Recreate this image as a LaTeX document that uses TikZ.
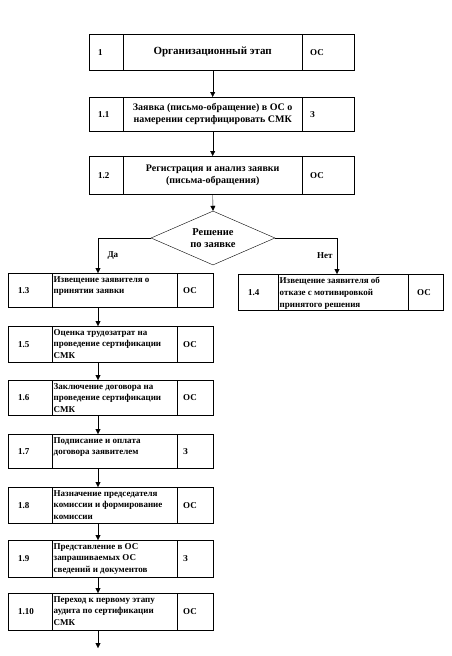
\documentclass[tikz,border=0pt]{standalone}
\usepackage{fontspec}
\setmainfont{Liberation Serif}
\usetikzlibrary{shapes.geometric,arrows.meta}

\tikzset{
  cell/.style={draw, thin, anchor=north west, inner ysep=0pt, font=\bfseries\fontsize{9}{11.7}\selectfont},
  numT/.style={cell, align=left, inner xsep=9pt, text width=16pt},
  midT/.style={cell, align=center, inner xsep=0pt, minimum width=179pt, font=\bfseries\fontsize{10}{12}\selectfont},
  codeT/.style={cell, align=left, inner xsep=8pt, text width=36pt},
  numL/.style={cell, align=left, inner xsep=10pt, text width=24pt},
  midL/.style={cell, inner xsep=0pt, minimum width=125pt},
  codeL/.style={cell, align=left, inner xsep=6pt, text width=24pt},
  numR/.style={cell, align=left, inner xsep=10pt, text width=20pt},
  midR/.style={cell, inner xsep=0pt, minimum width=130pt},
  codeR/.style={cell, align=left, inner xsep=9pt, text width=17pt},
  txt/.style={anchor=north west, align=left, inner xsep=1.5pt, inner ysep=3pt, font=\bfseries\fontsize{9}{11.7}\selectfont},
  arr/.style={thin, -{Triangle[length=5pt,width=5pt]}}
}

\begin{document}
\begin{tikzpicture}[x=1pt, y=-1pt]
    \useasboundingbox (0,0) rectangle (452,656);

    % 1 Организационный этап
    \node[numT, minimum height=36pt] (n1) at (89,34) {1};
    \node[midT, minimum height=36pt, font=\bfseries\fontsize{11}{13}\selectfont] (t1) at (123,34) {Организационный этап};
    \node[codeT, minimum height=36pt] (c1) at (302,34) {ОС};

    % 1.1 Заявка
    \node[numT, minimum height=34pt] (n11) at (89,97) {1.1};
    \node[midT, minimum height=34pt] (t11) at (123,97) {Заявка (письмо-обращение) в ОС о\\намерении сертифицировать СМК};
    \node[codeT, minimum height=34pt] (c11) at (302,97) {З};

    % 1.2 Регистрация
    \node[numT, minimum height=38pt] (n12) at (89,156) {1.2};
    \node[midT, minimum height=38pt] (t12) at (123,156) {Регистрация и анализ заявки\\(письма-обращения)};
    \node[codeT, minimum height=38pt] (c12) at (302,156) {ОС};

    % Решение по заявке
    \node[draw, thin, diamond, aspect=2.3, minimum width=124pt, minimum height=54pt, inner sep=0pt,
          align=center, font=\bfseries\fontsize{10.5}{12}\selectfont] (d) at (213,238) {Решение\\по заявке};

    % Ветка "Нет"
    \node[numR, minimum height=36pt] (n14) at (238,274) {1.4};
    \node[midR, minimum height=36pt] (t14) at (278,274) {};
    \node[codeR, minimum height=36pt] (c14) at (408,274) {ОС};
    \node[txt] (x14) at (t14.north west) {Извещение заявителя об\\отказе с мотивировкой\\принятого решения};

    % Ветка "Да"
    \node[numL, minimum height=34pt] (n13) at (8,273) {1.3};
    \node[midL, minimum height=34pt] (t13) at (52,273) {};
    \node[codeL, minimum height=34pt] (c13) at (177,273) {ОС};
    \node[txt] (x13) at (t13.north west) {Извещение заявителя о\\принятии заявки};

    \node[numL, minimum height=36pt] (n15) at (8,326) {1.5};
    \node[midL, minimum height=36pt] (t15) at (52,326) {};
    \node[codeL, minimum height=36pt] (c15) at (177,326) {ОС};
    \node[txt] (x15) at (t15.north west) {Оценка трудозатрат на\\проведение сертификации\\СМК};

    \node[numL, minimum height=35pt] (n16) at (8,380) {1.6};
    \node[midL, minimum height=35pt] (t16) at (52,380) {};
    \node[codeL, minimum height=35pt] (c16) at (177,380) {ОС};
    \node[txt] (x16) at (t16.north west) {Заключение договора на\\проведение сертификации\\СМК};

    \node[numL, minimum height=34pt] (n17) at (8,434) {1.7};
    \node[midL, minimum height=34pt] (t17) at (52,434) {};
    \node[codeL, minimum height=34pt] (c17) at (177,434) {З};
    \node[txt] (x17) at (t17.north west) {Подписание и оплата\\договора заявителем};

    \node[numL, minimum height=36pt] (n18) at (8,487) {1.8};
    \node[midL, minimum height=36pt] (t18) at (52,487) {};
    \node[codeL, minimum height=36pt] (c18) at (177,487) {ОС};
    \node[txt] (x18) at (t18.north west) {Назначение председателя\\комиссии и формирование\\комиссии};

    \node[numL, minimum height=37pt] (n19) at (8,540) {1.9};
    \node[midL, minimum height=37pt] (t19) at (52,540) {};
    \node[codeL, minimum height=37pt] (c19) at (177,540) {З};
    \node[txt] (x19) at (t19.north west) {Представление в ОС\\запрашиваемых ОС\\сведений и документов};

    \node[numL, minimum height=37pt] (n110) at (8,593) {1.10};
    \node[midL, minimum height=37pt] (t110) at (52,593) {};
    \node[codeL, minimum height=37pt] (c110) at (177,593) {ОС};
    \node[txt] (x110) at (t110.north west) {Переход к первому этапу\\аудита по сертификации\\СМК};

    % Стрелки
    \coordinate (colL) at (98,0);
    \coordinate (colR) at (337,0);
    \coordinate (end) at (98,648);
    \draw[arr] (t1.south) -- (t11.north);
    \draw[arr] (t11.south) -- (t12.north);
    \draw[arr] (t12.south) -- (d.north);
    \draw[arr] (d.west) -| (t13.north -| colL) node[pos=0.75, right=6pt, font=\bfseries\fontsize{9}{11}\selectfont] (yes) {Да};
    \draw[arr] (d.east) -| (t14.north -| colR) node[pos=0.75, left=1pt, font=\bfseries\fontsize{9}{11}\selectfont] (no) {Нет};
    \draw[arr] (t13.south -| colL) -- (t15.north -| colL);
    \draw[arr] (t15.south -| colL) -- (t16.north -| colL);
    \draw[arr] (t16.south -| colL) -- (t17.north -| colL);
    \draw[arr] (t17.south -| colL) -- (t18.north -| colL);
    \draw[arr] (t18.south -| colL) -- (t19.north -| colL);
    \draw[arr] (t19.south -| colL) -- (t110.north -| colL);
    \draw[arr] (t110.south -| colL) -- (end);
\end{tikzpicture}
\end{document}
